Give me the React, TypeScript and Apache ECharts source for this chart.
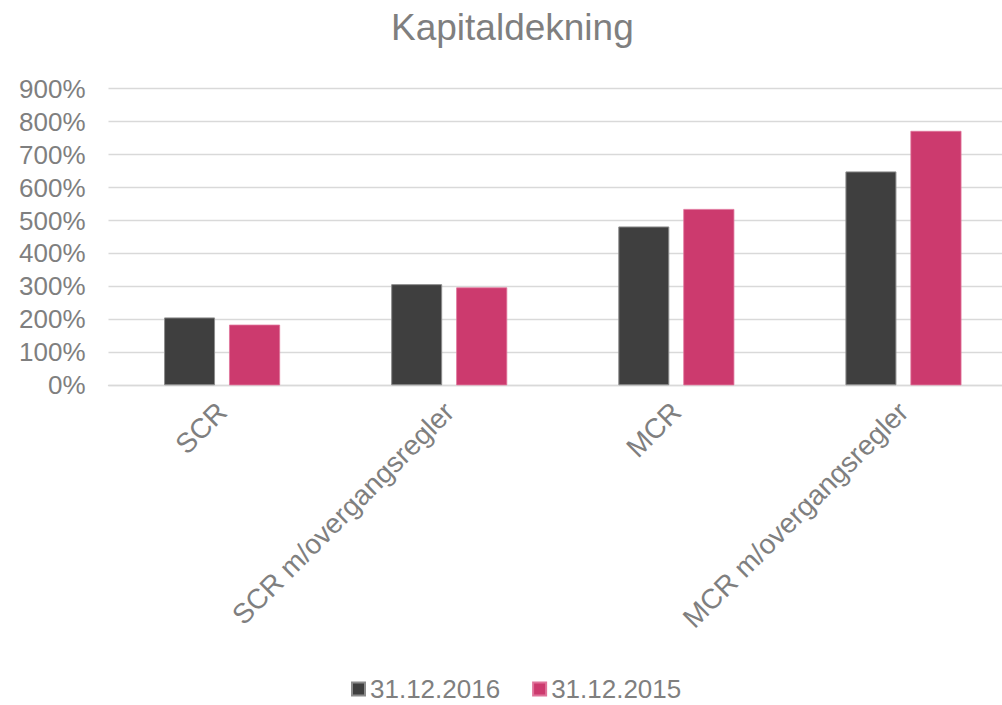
import React, { useEffect, useRef } from "react";
import * as echarts from "echarts";

const title = "Kapitaldekning";
const categories = ["SCR", "SCR m/overgangsregler", "MCR", "MCR m/overgangsregler"];
const seriesNames = ["31.12.2016", "31.12.2015"];
const values2016 = [206, 307, 482, 649];
const values2015 = [184, 297, 535, 772];
const yTicks = { min: 0, max: 900, interval: 100 };

export default function App() {
  const ref = useRef<HTMLDivElement>(null);
  useEffect(() => {
    if (!ref.current) return;
    const chart = echarts.init(ref.current, undefined, { renderer: "svg" });
    const gray = "#7f7f7f";
    chart.setOption({
      animation: false,
      backgroundColor: "#ffffff",
      title: {
        text: title,
        left: 386,
        top: 4,
        textStyle: { color: gray, fontSize: 37, fontWeight: "normal", fontFamily: "Arial" },
      },
      legend: {
        top: 676,
        left: 351,
        padding: 0,
        itemWidth: 13,
        itemHeight: 13,
        itemGap: 32,
        icon: "rect",
        textStyle: { color: gray, fontSize: 26, lineHeight: 22, fontFamily: "Arial" },
        data: seriesNames,
      },
      grid: { left: 108.5, top: 88.7, right: 0, height: 296.6 },
      xAxis: {
        type: "category",
        data: categories,
        axisLine: { lineStyle: { color: "#d9d9d9", width: 1.3 } },
        axisTick: { show: false },
        axisLabel: {
          rotate: 45,
          margin: 22,
          color: gray,
          fontSize: 28,
          fontFamily: "Arial",
          interval: 0,
        },
      },
      yAxis: {
        type: "value",
        min: yTicks.min,
        max: yTicks.max,
        interval: yTicks.interval,
        axisLine: { show: false },
        axisTick: { show: false },
        splitLine: { lineStyle: { color: "#d9d9d9", width: 1.3 } },
        axisLabel: {
          margin: 23,
          color: gray,
          fontSize: 26,
          fontFamily: "Arial",
          formatter: (v: number) => v + "%",
        },
      },
      series: [
        {
          name: seriesNames[0],
          type: "bar",
          data: values2016,
          barWidth: 51,
          barGap: "27.5%",
          itemStyle: { color: "#3f3f3f", borderColor: "#8c8c8c", borderWidth: 1 },
        },
        {
          name: seriesNames[1],
          type: "bar",
          data: values2015,
          barWidth: 51,
          barGap: "27.5%",
          itemStyle: { color: "#cc3a6e", borderColor: "#e0739a", borderWidth: 0.8 },
        },
      ],
    });
    return () => chart.dispose();
  }, []);
  return (
    <div style={{ width: 1002, height: 705, position: "absolute", left: 0, top: 0, overflow: "hidden", background: "#fff" }}>
      <div ref={ref} style={{ width: 1017, height: 705 }} />
    </div>
  );
}
